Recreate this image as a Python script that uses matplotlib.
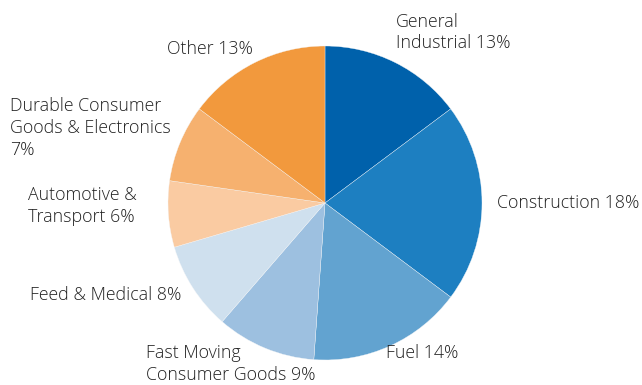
import matplotlib
matplotlib.use("Agg")
import matplotlib.pyplot as plt

categories = ["General\nIndustrial", "Construction", "Fuel", "Fast Moving\nConsumer Goods",
              "Feed & Medical", "Automotive &\nTransport", "Durable Consumer\nGoods & Electronics\n",
              "Other"]
values = [13, 18, 14, 9, 8, 6, 7, 13]
colors = ["#0061AB", "#1D7FC1", "#62A3D0", "#9DC0E0", "#CFE0EE", "#FACBA2", "#F6B16F", "#F2993D"]

# label anchor positions in pixels (left x, vertical centre y)
label_pos = [(396, 32.5), (497, 203), (386, 353), (146, 364),
             (30, 295), (28, 206), (10, 128), (167, 49)]

W, H = 642, 385
fig = plt.figure(figsize=(W / 100, H / 100), dpi=100)
cx, cy, r = 325, 203, 157
ax = fig.add_axes([(cx - r) / W, (H - cy - r) / H, 2 * r / W, 2 * r / H])
ax.pie(values, colors=colors, startangle=90, counterclock=False, radius=1,
       wedgeprops=dict(edgecolor="#f4f6f8", linewidth=0.25))
ax.set_xlim(-1, 1)
ax.set_ylim(-1, 1)
ax.set_aspect("equal")
ax.axis("off")

for cat, v, (px, py) in zip(categories, values, label_pos):
    sep = "" if cat.endswith("\n") else " "
    txt = f"{cat}{sep}{v}%"
    fig.text(px / W, 1 - py / H, txt, ha="left", va="center", fontsize=12.8,
             family=["Open Sans", "DejaVu Sans"], fontweight="light", color="#222222",
             linespacing=1.28, multialignment="left")

fig.savefig("out.png", dpi=100)
